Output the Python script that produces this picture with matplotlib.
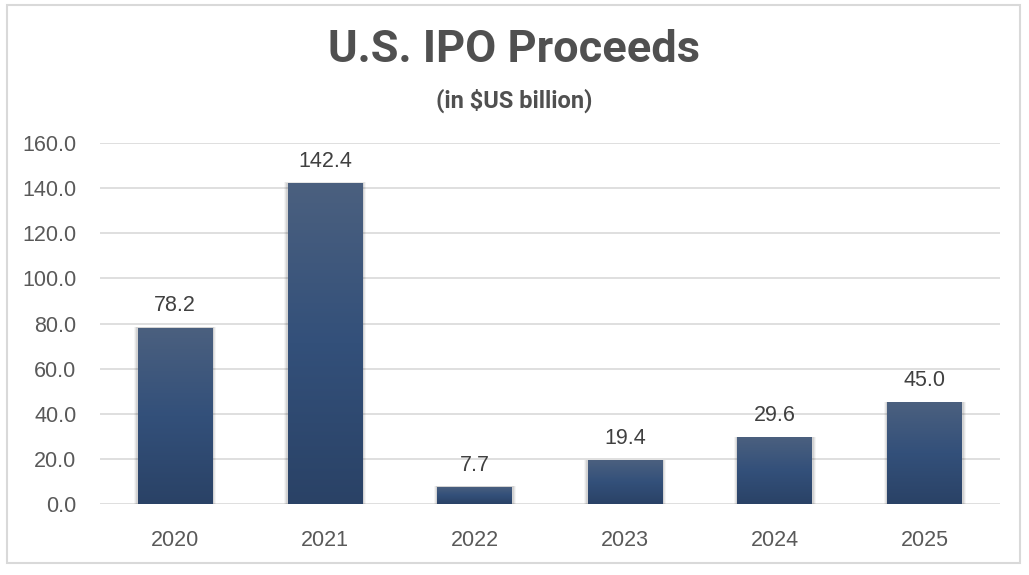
import numpy as np
import matplotlib
matplotlib.use("Agg")
from matplotlib import pyplot as plt
from matplotlib.patches import Rectangle
from matplotlib.colors import LinearSegmentedColormap

years = ["2020", "2021", "2022", "2023", "2024", "2025"]
proceeds = [78.2, 142.4, 7.7, 19.4, 29.6, 45.0]
y_ticks = [0, 20, 40, 60, 80, 100, 120, 140, 160]

plt.rcParams['font.family'] = ['Liberation Sans', 'DejaVu Sans']

W, H = 1029, 575
fig = plt.figure(figsize=(W / 100, H / 100), dpi=100)
fig.patch.set_facecolor("white")

# outer chart border
fig.add_artist(Rectangle((7 / W, 1 - 563 / H), (1020 - 7) / W, (563 - 5) / H,
                         transform=fig.transFigure, fill=False,
                         edgecolor="#d9d9d9", linewidth=1.5))

ax = fig.add_axes([100 / W, 1 - 504 / H, 900 / W, (504 - 143) / H])
for s in ax.spines.values():
    s.set_visible(False)
ax.set_yticks(y_ticks)
ax.set_yticklabels([f"{v:.1f}" for v in y_ticks])
ax.set_xticks(range(len(years)))
ax.set_xticklabels(years)
ax.tick_params(axis="both", length=0, labelsize=15.5, colors="#595959")
ax.tick_params(axis="y", pad=17)
ax.tick_params(axis="x", pad=19)
ax.grid(axis="y", color="#d9d9d9", linewidth=1.2)
ax.set_axisbelow(True)

cmap = LinearSegmentedColormap.from_list("bar", ["#2a4266", "#33507a", "#4b607f"])
grad = np.linspace(0, 1, 256).reshape(-1, 1)
bw = 0.5
bars = ax.bar(range(len(years)), proceeds, width=bw, color="none", zorder=3)
for i, (b, v) in enumerate(zip(bars, proceeds)):
    # soft shadow
    for k, a in [(0.05, 0.04), (0.03, 0.06), (0.015, 0.08)]:
        ax.add_patch(Rectangle((i - bw / 2 - k / 2, 0), bw + k, v + k * 4,
                               facecolor="black", alpha=a, edgecolor="none",
                               zorder=2))
    im = ax.imshow(grad, cmap=cmap, aspect="auto", origin="lower",
                   extent=(i - bw / 2, i + bw / 2, 0, v), zorder=3)
    im.set_clip_path(b)
    ax.annotate(f"{v:.1f}", (i, v), xytext=(0, 8), textcoords="offset points",
                ha="center", va="bottom", fontsize=15.5, color="#404040",
                zorder=4)
ax.set_xlim(-0.5, len(years) - 0.5)
ax.set_ylim(0, 160)

fig.text(0.5, 1 - 50 / H, "U.S. IPO Proceeds", ha="center", va="center",
         fontsize=32.5, fontweight="bold", color="#505050", family="Roboto")
fig.text(0.5, 1 - 101 / H, "(in $US billion)", ha="center", va="center",
         fontsize=17, fontweight="bold", color="#505050", family="Roboto")

fig.savefig("out.png", dpi=100)
